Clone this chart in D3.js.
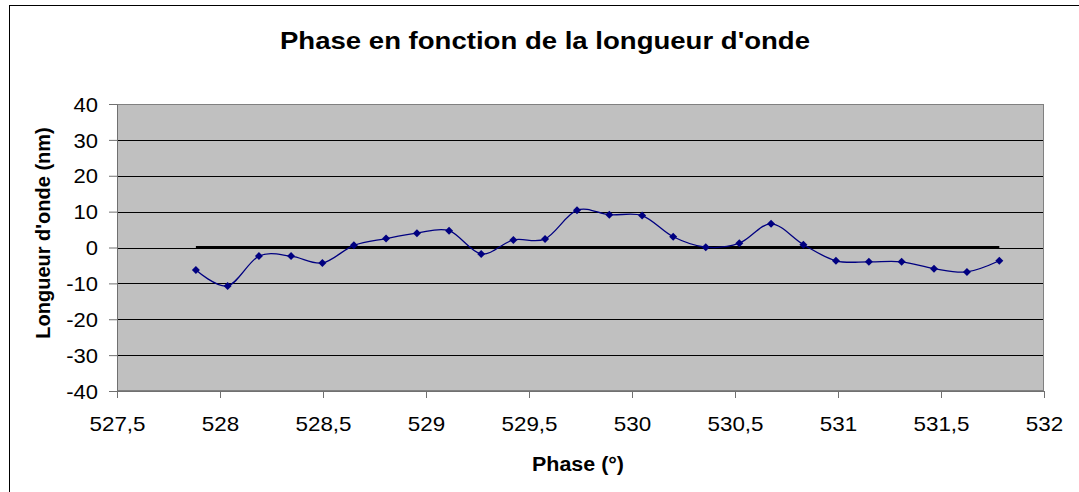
<!DOCTYPE html>
<html>
<head>
<meta charset="utf-8">
<script src="https://cdn.jsdelivr.net/npm/d3@7"></script>
<style>
  html, body { margin: 0; padding: 0; background: #fff; }
  svg { display: block; }
  text { font-family: Arial, "Liberation Sans", sans-serif; }
</style>
</head>
<body>
<svg id="chart" width="1079" height="492"></svg>
<script>
// ---- data ----
const phase = [527.883, 528.037, 528.189, 528.345, 528.497, 528.650, 528.806, 528.956, 529.112, 529.268,
               529.424, 529.578, 529.733, 529.890, 530.049, 530.200, 530.358, 530.521, 530.675, 530.832,
               530.990, 531.150, 531.309, 531.466, 531.626, 531.783];
const wavelength = [-6.3, -10.7, -2.4, -2.4, -4.3, 0.6, 2.5, 4.0, 4.7, -1.8,
                    2.1, 2.4, 10.4, 9.1, 8.9, 3.0, 0.1, 1.2, 6.6, 0.8,
                    -3.7, -4.0, -4.0, -5.9, -6.8, -3.7];
const refPhase = [527.883, 531.783];
const refValue = [0, 0];
const xTicks = [527.5, 528, 528.5, 529, 529.5, 530, 530.5, 531, 531.5, 532];
const yTicks = [-40, -30, -20, -10, 0, 10, 20, 30, 40];
const titleText = "Phase en fonction de la longueur d'onde";
const xTitle = "Phase (°)";
const yTitle = "Longueur d'onde (nm)";

// ---- layout ----
const svg = d3.select("#chart");
const plot = { left: 117, right: 1044, top: 104, bottom: 391 };

const x = d3.scaleLinear().domain([527.5, 532]).range([plot.left, plot.right]);
const y = d3.scaleLinear().domain([-40, 40]).range([plot.bottom, plot.top]);

// outer chart border
svg.append("rect").attr("x", 9.5).attr("y", 5.5).attr("width", 1100).attr("height", 600)
  .attr("fill", "#fff").attr("stroke", "#000").attr("stroke-width", 1);

// plot background
svg.append("rect")
  .attr("x", plot.left).attr("y", plot.top)
  .attr("width", plot.right - plot.left).attr("height", plot.bottom - plot.top)
  .attr("fill", "#C0C0C0");

// gridlines
svg.append("g").selectAll("line").data(yTicks.filter(d => d !== -40 && d !== 40)).join("line")
  .attr("x1", plot.left).attr("x2", plot.right)
  .attr("y1", d => Math.round(y(d)) + 0.5).attr("y2", d => Math.round(y(d)) + 0.5)
  .attr("stroke", "#000").attr("stroke-width", 1);

// plot border
svg.append("rect")
  .attr("x", plot.left + 0.5).attr("y", plot.top + 0.5)
  .attr("width", plot.right - plot.left - 1).attr("height", plot.bottom - plot.top - 1)
  .attr("fill", "none").attr("stroke", "#808080").attr("stroke-width", 1);

const fmt = d => String(d).replace(".", ",");

// x axis
const gx = svg.append("g").attr("transform", `translate(0,${plot.bottom})`)
  .call(d3.axisBottom(x).tickValues(xTicks).tickFormat(fmt).tickSize(7).tickSizeOuter(0));
gx.select(".domain").attr("stroke", "#707070");
gx.selectAll(".tick line").attr("stroke", "#707070");
gx.selectAll(".tick text")
  .attr("y", 0).attr("dy", 0)
  .attr("transform", "translate(0,40) scale(1.12,1)")
  .attr("font-size", 20).attr("fill", "#000")
  .style("font-family", "Arial, 'Liberation Sans', sans-serif");

// y axis
const gy = svg.append("g").attr("transform", `translate(${plot.left},0)`)
  .call(d3.axisLeft(y).tickValues(yTicks).tickFormat(d => String(d)).tickSize(8).tickSizeOuter(0));
gy.select(".domain").attr("stroke", "#707070");
gy.selectAll(".tick line").attr("stroke", "#707070");
gy.selectAll(".tick text")
  .attr("x", 0).attr("dy", "0.36em")
  .attr("transform", "translate(-19,0) scale(1.1,1)")
  .attr("font-size", 20).attr("fill", "#000")
  .style("font-family", "Arial, 'Liberation Sans', sans-serif");

// reference zero series
const refData = refPhase.map((p, i) => [p, refValue[i]]);
svg.append("path")
  .datum(refData)
  .attr("d", d3.line().x(d => x(d[0])).y(d => y(d[1])))
  .attr("fill", "none").attr("stroke", "#000").attr("stroke-width", 3);

// main series (smoothed)
const data = phase.map((p, i) => [p, wavelength[i]]);
svg.append("path")
  .datum(data)
  .attr("d", d3.line().x(d => x(d[0])).y(d => y(d[1])).curve(d3.curveCatmullRom.alpha(0)))
  .attr("fill", "none").attr("stroke", "#000080").attr("stroke-width", 1.3);

svg.append("g").selectAll("path").data(data).join("path")
  .attr("transform", d => `translate(${x(d[0])},${y(d[1])})`)
  .attr("d", "M0,-4L4,0L0,4L-4,0Z")
  .attr("fill", "#000080");

// titles
svg.append("text")
  .attr("x", 545).attr("y", 49)
  .attr("text-anchor", "middle")
  .attr("font-size", 23).attr("font-weight", "bold")
  .attr("textLength", 530).attr("lengthAdjust", "spacingAndGlyphs")
  .text(titleText);

svg.append("text")
  .attr("x", 578).attr("y", 471)
  .attr("text-anchor", "middle")
  .attr("font-size", 20).attr("font-weight", "bold")
  .attr("textLength", 92).attr("lengthAdjust", "spacingAndGlyphs")
  .text(xTitle);

svg.append("text")
  .attr("transform", "translate(50,233) rotate(-90)")
  .attr("text-anchor", "middle")
  .attr("font-size", 20).attr("font-weight", "bold")
  .text(yTitle);
</script>
</body>
</html>
